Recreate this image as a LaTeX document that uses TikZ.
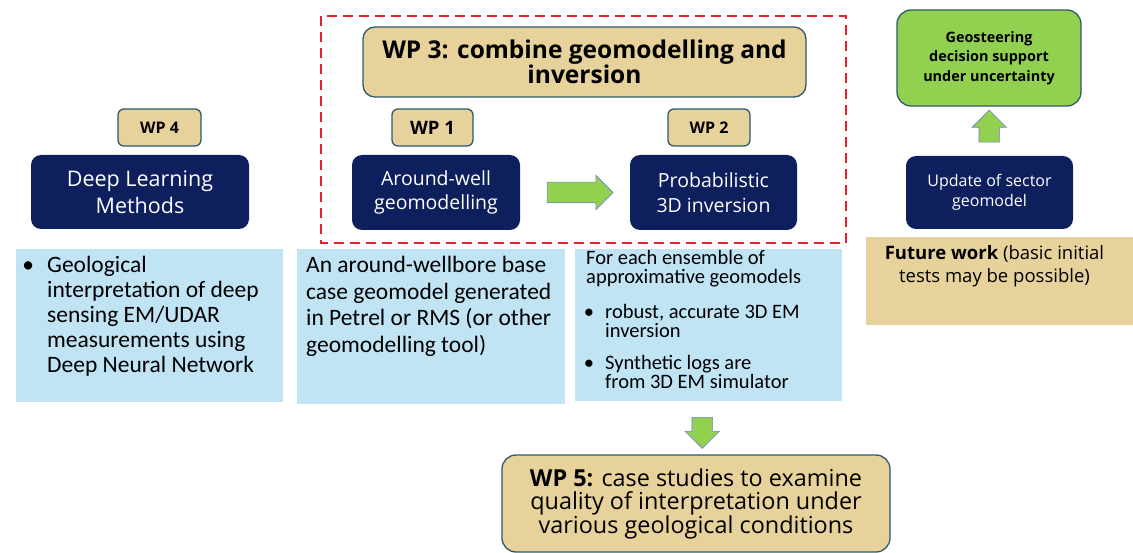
\documentclass[tikz,border=0pt]{standalone}
\usepackage{fontspec}
\setmainfont{Open Sans}
\newfontfamily\notefont{Carlito}
\usepackage{tikz}
\usetikzlibrary{shapes.arrows, positioning, calc}
\definecolor{navy}{HTML}{0D1F5C}
\definecolor{papyrus}{HTML}{E7D29C}
\definecolor{tealedge}{HTML}{2E5B69}
\definecolor{skyfill}{HTML}{C1E4F5}
\definecolor{leafgreen}{HTML}{92D050}
\definecolor{arrowedge}{HTML}{7382D6}
\definecolor{dashred}{HTML}{E8202A}
\tikzstyle{wpnode} = [draw=tealedge, fill=papyrus, line width=1.3pt, rounded corners=6pt, inner sep=0pt, align=center, font=\bfseries]
\tikzstyle{taskbox} = [fill=navy, rounded corners=10pt, text=white, align=center, inner sep=0pt]
\tikzstyle{notebox} = [fill=skyfill, inner sep=0pt]
\tikzstyle{notetext} = [anchor=north west, align=left, inner sep=0pt]
\tikzstyle{fatarrow} = [single arrow, fill=leafgreen, draw=arrowedge, line width=0.6pt, inner xsep=0pt, inner ysep=10pt, single arrow head extend=7pt, single arrow tip angle=90]

\begin{document}
\begin{tikzpicture}[x=1pt, y=-1pt]
	\useasboundingbox (0,0) rectangle (1133,553);

	\node [wpnode, minimum width=443pt, minimum height=70pt, rounded corners=12pt, font=\fontsize{24.5}{25}\selectfont\bfseries] (wp3) at (584.5,62) {WP 3: combine geomodelling and\\inversion};
	\node [wpnode, minimum width=81pt, minimum height=37pt, font=\fontsize{18.5}{20}\selectfont\bfseries] (wp1) at (432.5,127.5) {WP 1};
	\node [wpnode, minimum width=82pt, minimum height=37pt, font=\fontsize{16}{20}\selectfont\bfseries] (wp2) at (709,127.5) {WP 2};
	\node [wpnode, minimum width=83pt, minimum height=37pt, font=\fontsize{16}{20}\selectfont\bfseries] (wp4) at (159.5,127.5) {WP 4};

	\node [taskbox, minimum width=218pt, minimum height=74pt, font=\fontsize{21.5}{27}\selectfont] (deep) at (140,192) {Deep Learning\\Methods};
	\node [taskbox, minimum width=168pt, minimum height=75pt, font=\fontsize{19.5}{24.5}\selectfont] (around) at (436,192.5) {Around-well\\geomodelling};
	\node [taskbox, minimum width=167pt, minimum height=75pt, font=\fontsize{19.5}{24.5}\selectfont] (prob) at (713.5,192.5) {Probabilistic\\3D inversion};
	\node [taskbox, minimum width=167pt, minimum height=73pt, font=\fontsize{16}{20}\selectfont] (update) at (989.5,192.5) {Update of sector\\geomodel};

	\node [wpnode, fill=leafgreen, minimum width=184pt, minimum height=96pt, rounded corners=14pt, font=\fontsize{14.4}{19.5}\selectfont\bfseries] (geo) at (989,58) {Geosteering\\decision support\\under uncertainty};

	\node [fill=papyrus, minimum width=267pt, minimum height=88pt, inner sep=0pt] (future) at (999.5,281) {};
	\node [align=center, anchor=north, inner sep=0pt, font=\fontsize{18.5}{23.5}\selectfont] (futuretxt) at ([xshift=-5pt, yshift=-8pt]future.north) {\textbf{Future work} (basic initial\\tests may be possible)};

	\node [notebox, minimum width=267pt, minimum height=153pt] (note1) at (149.5,325.5) {};
	\node [notebox, minimum width=268pt, minimum height=155pt] (note2) at (431,326.5) {};
	\node [notebox, minimum width=267pt, minimum height=152pt] (note3) at (708.5,325) {};

	\node [notetext, font=\notefont\fontsize{23.5}{25}\selectfont] (note1txt) at (47,256) {\llap{\textbullet\hspace{13pt}}Geological\\interpretation of deep\\sensing EM/UDAR\\measurements using\\Deep Neural Network};
	\node [notetext, font=\notefont\fontsize{23.5}{26.5}\selectfont] (note2txt) at (306,256) {An around-wellbore base\\case geomodel generated\\in Petrel or RMS (or other\\geomodelling tool)};
	\node [notetext, font=\notefont\fontsize{20.5}{19}\selectfont] (note3head) at (586,250) {For each ensemble of\\approximative geomodels};
	\node [notetext, font=\notefont\fontsize{20.5}{19}\selectfont] (note3a) at (605,304) {\llap{\textbullet\hspace{11pt}}robust, accurate 3D EM\\inversion};
	\node [notetext, font=\notefont\fontsize{20.5}{19}\selectfont] (note3b) at (605,355) {\llap{\textbullet\hspace{11pt}}Synthetic logs are\\from 3D EM simulator};

	\node [wpnode, minimum width=388pt, minimum height=97pt, rounded corners=14pt, font=\fontsize{23.4}{23.5}\selectfont] (wp5) at (696,503.5) {\textbf{WP 5:} case studies to examine\\quality of interpretation under\\various geological conditions};

	\draw [dashred, line width=2.8pt, dash pattern=on 10pt off 6pt] (321,16) rectangle (846,243);

	\node [fatarrow, minimum height=66pt] (rarrow) at ($(around.east)!0.5!(prob.west)$) {};
	\node [fatarrow, minimum height=32pt, rotate=90] (uarrow) at ($(update.north)!0.5!(geo.south)$) {};
	\node [fatarrow, minimum height=31pt, rotate=-90] (darrow) at ($(note3.south)!0.5!(wp5.north)$ -| prob) {};
\end{tikzpicture}
\end{document}
